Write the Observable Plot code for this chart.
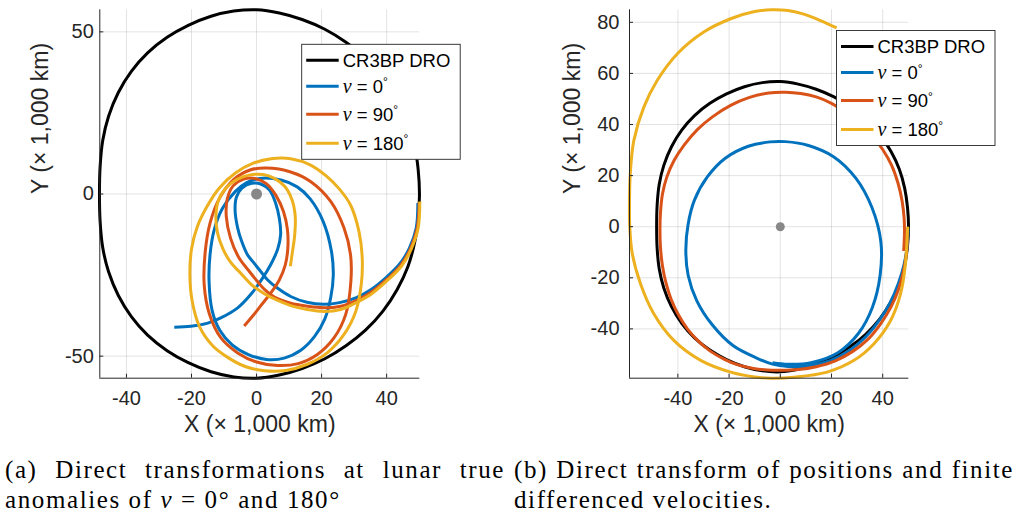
<!DOCTYPE html>
<html>
<head>
<meta charset="utf-8">
<script src="https://cdn.jsdelivr.net/npm/d3@7"></script>
<script src="https://cdn.jsdelivr.net/npm/@observablehq/plot@0.6"></script>
<style>
  html, body { margin: 0; padding: 0; background: #fff; }
  body { width: 1019px; height: 518px; position: relative; overflow: hidden; }
  .panel { position: absolute; top: 0; }
  .cap { position: absolute; top: 455px; width: 500px; font-family: "Liberation Serif", "Times New Roman", serif;
         font-size: 25px; line-height: 30px; letter-spacing: 1.6px; color: #000; }
  .cap .j { text-align: justify; text-align-last: justify; white-space: nowrap; }
  .cap i { font-style: italic; }
</style>
</head>
<body>
<div id="pa" class="panel" style="left:0px"></div>
<div id="pb" class="panel" style="left:520px"></div>
<div class="cap" style="left:5px">
  <div class="j">(a) Direct transformations at lunar true</div>
  <div>anomalies of <i>ν</i> = 0° and 180°</div>
</div>
<div class="cap" style="left:514px">
  <div class="j">(b) Direct transform of positions and finite</div>
  <div>differenced velocities.</div>
</div>
<script>
// ---- series labels and colours ----
const seriesKeys = ["dro", "nu0", "nu90", "nu180"];
const seriesNu = [null, "0", "90", "180"];
const seriesColor = {dro: "#000000", nu0: "#0072BD", nu90: "#D95319", nu180: "#EDB120"};

// ---- tick values ----
const ticksAX = [-40, -20, 0, 20, 40];
const ticksAY = [-50, 0, 50];
const ticksBX = [-40, -20, 0, 20, 40];
const ticksBY = [-40, -20, 0, 20, 40, 60, 80];
const xLabel = "X (× 1,000 km)";
const yLabel = "Y (× 1,000 km)";

// ---- CR3BP DRO (x, y in 1,000 km), shared by both panels ----
const dro = [
  [50.1,0],[49.7,7.5],[48.6,15],[46.5,22.5],[43.2,29.5],[38.8,36.2],[33.5,42],[27.5,46.8],[21,50.8],
  [14,53.8],[7,55.8],[0,56.8],[-7,56.4],[-14,54.8],[-21,52],[-27.5,48.3],[-33.5,43.5],[-38.5,37.8],
  [-42.5,31.3],[-45.5,24],[-47.3,16.5],[-48.1,8.5],[-48.3,0],[-48.1,-8.5],[-47.3,-16.5],[-45.5,-24],
  [-42.5,-31.3],[-38.5,-37.8],[-33.5,-43.5],[-27.5,-48.3],[-21,-52],[-14,-54.8],[-7,-56.4],[0,-56.8],
  [7,-55.8],[14,-53.8],[21,-50.8],[27.5,-46.8],[33.5,-42],[38.8,-36.2],[43.2,-29.5],[46.5,-22.5],
  [48.6,-15],[49.7,-7.5]
];

// ---- panel (a): direct transformations, open arcs and closed revolutions ----
const aNu0Arc = [
  [49.6,-2.8],[49.1,-10.5],[47.0,-16.7],[44.0,-21.6],[40.0,-25.6],[35.0,-29.6],[30.5,-32.0],[25.5,-33.5],
  [20.7,-34.0],[15.5,-33.4],[10.5,-31.6],[6.4,-29.0],[3.5,-26.6],[1.3,-23.9],[-1.0,-21.0],[-2.8,-18.7],
  [-4.6,-14.5],[-5.8,-10.5],[-6.6,-5],[-6.2,-1],[-4.5,1.8],[-1.5,3.3],[1.5,3.0],[4.0,1.2],[5.9,-2.9],
  [7.0,-7.5],[7.4,-12.5],[6.5,-17],[4.5,-21.5],[1.5,-26.5],[-1.8,-31],[-5.8,-35.1],[-11,-38.2],
  [-15,-39.8],[-20.2,-40.8],[-25.3,-41.1]
];
const aNu0Loop = [
  [1.0,4.8],[7.5,4.3],[12.5,2.2],[16.5,-1.5],[20.5,-8.5],[23.0,-17.5],[23.6,-25],[22.8,-32],[21.0,-38.5],
  [17.8,-44],[13.6,-48.2],[8.5,-50.6],[3,-51],[-2.5,-49.5],[-7.5,-46.5],[-11.3,-42],[-13.6,-36.2],
  [-14.6,-27],[-14.3,-18.7],[-13,-11],[-10.5,-4.5],[-6.5,0.8],[-3,3.5]
];
const aNu90Arc = [
  [50.0,-2.6],[49.4,-10.5],[47.3,-16.9],[44.3,-22.0],[40.2,-26.2],[35.1,-30.4],[31.0,-32.7],[25.9,-34.6],
  [20.8,-35.1],[15.5,-34.6],[10.5,-33.7],[5.5,-31.8],[2.5,-29.5],[0.3,-27],[-2.5,-23.5],[-5.5,-19.5],
  [-8,-13.6],[-9.3,-7],[-9.0,-1.5],[-7.2,2.5],[-4,4.6],[-0.5,4.8],[3,3.2],[6,-0.5],[8.3,-5.5],[9.5,-11],
  [9.6,-17],[8.8,-22],[7.0,-26.5],[4.4,-30.5],[1.5,-34.2],[-1,-37.4],[-3.8,-40.7]
];
const aNu90Loop = [
  [3,8],[10.5,6.8],[16.7,3.8],[22.8,-2.3],[26.9,-10.5],[28.9,-18.7],[29.0,-27],[27.4,-37.2],[23.8,-44.4],
  [18.7,-49.5],[12.8,-52.3],[6.5,-52.9],[0,-51.8],[-5.8,-49],[-11,-44.3],[-14.5,-37],[-16.1,-28],
  [-15.8,-18],[-14.3,-9],[-11.5,-1.5],[-7,4.5],[-2,7.4]
];
const aNu180Arc = [
  [50.2,-2.3],[49.7,-10.5],[47.6,-16.9],[44.6,-22.2],[40.4,-26.5],[35.2,-30.9],[31.0,-33.3],[25.9,-35.6],
  [20.7,-36.2],[15.6,-35.6],[10.5,-34.4],[6,-32.6],[2,-30.5],[-1.5,-28],[-5,-24.3],[-8,-21],[-10.3,-17],
  [-12,-12],[-12.5,-7],[-11.8,-2.2],[-9.5,1.8],[-6,4.5],[-2,5.9],[2,6],[5.5,4.8],[8.7,2.3],[10.9,-1.8],
  [11.9,-7],[11.7,-13],[11,-18],[10.4,-22.3]
];
const aNu180Loop = [
  [4.5,10.9],[10.5,10.9],[16.5,9],[21.5,5.5],[25.5,1.5],[28.9,-3.4],[31.5,-11.6],[32.5,-19.8],[32.2,-27.9],
  [30.5,-36.2],[26.9,-43.3],[21.8,-48.9],[15.6,-52.5],[9,-54.4],[2.5,-54.5],[-3.5,-53.2],[-9,-50.3],
  [-13.5,-46.8],[-17.5,-41],[-19.8,-33],[-20.5,-25],[-20,-17],[-18.3,-10.3],[-15.2,-3.8],[-11.5,1.8],
  [-6.5,6.5],[-1,9.5]
];

// ---- panel (b): positions with finite-differenced velocities ----
const bNu0 = [
  [49.9,-0.5],[49.5,-8],[48.3,-15],[46.2,-22],[43,-29.5],[38.8,-36.5],[33.5,-43],[27,-48.5],[19.5,-52.4],
  [11,-54.5],[3,-54.7],[-3,-53.8],[-9,-51.5],[-18.5,-46.5],[-26.5,-38.5],[-32.6,-29],[-36,-19],[-36.9,-9],
  [-36,1],[-33.5,10.5],[-28.5,19.5],[-21.5,26.8],[-12.5,31.5],[-4,33.2],[2,33.3],[11,31.8],[20.8,27.4],
  [29.5,19],[35.8,7.5],[39.3,-6],[39,-19],[36,-31.5],[30.5,-41.8],[22.5,-49.3],[12,-53.2],[3,-53.8],[-3,-53.2]
];
const bNu90 = [
  [49.6,-1.5],[49.4,-9],[48.2,-17],[46.2,-24.5],[43.2,-31.5],[39.2,-38],[34.3,-44],[28.3,-48.8],[21.5,-52.5],
  [14,-54.8],[7,-55.9],[0,-56.2],[-5,-56.1],[-10.5,-55.5],[-16.8,-54],[-22,-51.8],[-27.2,-48.8],[-32,-44.8],
  [-36.3,-40],[-39.8,-34.5],[-42.6,-28.5],[-44.6,-22.2],[-46,-15.5],[-46.8,-8],[-47,-1],[-46.8,5.5],
  [-46,12.9],[-44.3,19.5],[-41.5,25.9],[-37.5,32],[-32.4,38],[-26.5,43],[-19.4,47.5],[-12,50.6],
  [-4.5,52.3],[2,52.6],[8,52.1],[14,50.8],[20,48.3],[26,44.5],[31.5,40],[36,35.5],[40,30.2],[43.5,24],
  [46,17],[47.6,10],[48.4,3],[48.5,-3],[48.2,-9.5]
];
const bNu180 = [
  [49.8,0],[49.6,-3],[48.9,-14.5],[47,-26.2],[43.1,-36.7],[36.6,-45.8],[28.8,-52.3],[18.3,-56.9],[5.3,-58.9],
  [-3.5,-59.3],[-10,-58.8],[-19.4,-56.9],[-31.1,-52.3],[-41.6,-44.5],[-49.4,-34.1],[-54.6,-22.3],
  [-57.8,-10.6],[-58.8,0],[-58.9,10],[-58.6,20.7],[-57.2,33.8],[-53.3,46.8],[-48.1,57.2],[-40.2,67.7],
  [-29.9,76.2],[-19.4,81.4],[-10,84.2],[-3.5,84.9],[3,84.6],[9.5,83.1],[15.7,80.7],[22,77.8]
];

const moon = [[0, 0]];

// ---- line tracks: [series, points, closed?] in drawing order ----
const tracksA = [
  ["dro", dro, true],
  ["nu0", aNu0Arc, false], ["nu0", aNu0Loop, true],
  ["nu90", aNu90Arc, false], ["nu90", aNu90Loop, true],
  ["nu180", aNu180Arc, false], ["nu180", aNu180Loop, true]
];
const tracksB = [
  ["dro", dro, true],
  ["nu0", bNu0, false],
  ["nu90", bNu90, false],
  ["nu180", bNu180, false]
];

const AXIS = "#262626";
const FONT = "'Liberation Sans', Arial, Helvetica, sans-serif";

function drawPanel(cfg) {
  const {width, height, ml, mr, mt, mb, xDomain, yDomain, xTicks, yTicks, tracks, moonR, yLabelDx, yPad} = cfg;
  const fw = width - ml - mr, fh = height - mt - mb;
  const lineMarks = tracks.map(([key, pts, closed]) =>
    Plot.line(pts, {x: d => d[0], y: d => d[1], stroke: seriesColor[key], strokeWidth: 3,
      curve: closed ? "catmull-rom-closed" : "catmull-rom", strokeLinecap: "butt"}));
  return Plot.plot({
    width, height, marginLeft: ml, marginRight: mr, marginTop: mt, marginBottom: mb,
    x: {domain: xDomain}, y: {domain: yDomain},
    style: {fontFamily: FONT, fontSize: "20px", color: AXIS, background: "transparent", overflow: "visible"},
    marks: [
      Plot.gridX(xTicks, {stroke: AXIS, strokeOpacity: 0.13, strokeWidth: 1}),
      Plot.gridY(yTicks, {stroke: AXIS, strokeOpacity: 0.13, strokeWidth: 1}),
      ...lineMarks,
      Plot.dot(moon, {x: d => d[0], y: d => d[1], r: moonR, fill: "#888888", stroke: "none"}),
      Plot.tickX(xTicks, {x: d => d, insetTop: fh - 4, stroke: AXIS, strokeWidth: 1}),
      Plot.tickY(yTicks, {y: d => d, insetRight: fw - 4, stroke: AXIS, strokeWidth: 1}),
      Plot.ruleX([xDomain[0]], {stroke: AXIS, strokeWidth: 1}),
      Plot.ruleY([yDomain[0]], {stroke: AXIS, strokeWidth: 1}),
      Plot.axisX(xTicks, {tickSize: 0, tickPadding: 13, tickFormat: d => String(d), label: null, fill: AXIS}),
      Plot.axisY(yTicks, {tickSize: 0, tickPadding: yPad, tickFormat: d => String(d), label: null, fill: AXIS}),
      Plot.text([xLabel], {frameAnchor: "bottom", dy: 54, text: d => d, fontSize: 23, fill: AXIS}),
      Plot.text([yLabel], {frameAnchor: "left", dx: yLabelDx, rotate: -90, text: d => d, fontSize: 23, fill: AXIS})
    ]
  });
}

function addLegend(svg, box) {
  const rows = [16, 42, 70, 99];
  const g = d3.select(svg).append("g")
    .attr("font-family", FONT).attr("font-size", 18.5).attr("fill", "#000").attr("text-anchor", "start");
  g.append("rect").attr("x", box.x).attr("y", box.y).attr("width", box.w).attr("height", box.h)
    .attr("fill", "#fff").attr("stroke", AXIS).attr("stroke-width", 0.9);
  seriesKeys.forEach((k, i) => {
    const cy = box.y + rows[i];
    g.append("line").attr("x1", box.x + 4.5).attr("x2", box.x + 37).attr("y1", cy).attr("y2", cy)
      .attr("stroke", seriesColor[k]).attr("stroke-width", 3);
    const t = g.append("text").attr("x", box.x + 41).attr("y", cy).attr("dy", "0.36em")
      .attr("text-anchor", "start");
    if (seriesNu[i] === null) {
      t.text("CR3BP DRO");
    } else {
      t.append("tspan").attr("font-family", "'Liberation Serif', 'Times New Roman', serif")
        .attr("font-style", "italic").attr("font-size", 20).text("ν");
      t.append("tspan").text(" = " + seriesNu[i]);
      t.append("tspan").attr("dy", "-0.55em").attr("font-size", 12).text("°");
    }
  });
}

// panel (a)
const svgA = drawPanel({
  width: 440, height: 450, ml: 99.3, mr: 20.7, mt: 9.3, mb: 72.3,
  xDomain: [-48.2, 50.2], yDomain: [-56.8, 56.8], xTicks: ticksAX, yTicks: ticksAY,
  tracks: tracksA, moonR: 5.5, yLabelDx: -59, yPad: 6
});
addLegend(svgA, {x: 301.7, y: 44.3, w: 158.5, h: 115});
document.getElementById("pa").appendChild(svgA);

// panel (b)
const svgB = drawPanel({
  width: 499, height: 450, ml: 109, mr: 110.7, mt: 9.3, mb: 72.3,
  xDomain: [-58.9, 50.2], yDomain: [-59.3, 84.9], xTicks: ticksBX, yTicks: ticksBY,
  tracks: tracksB, moonR: 4.5, yLabelDx: -57, yPad: 10
});
addLegend(svgB, {x: 316.5, y: 30.5, w: 158.5, h: 115});
document.getElementById("pb").appendChild(svgB);
</script>
</body>
</html>
